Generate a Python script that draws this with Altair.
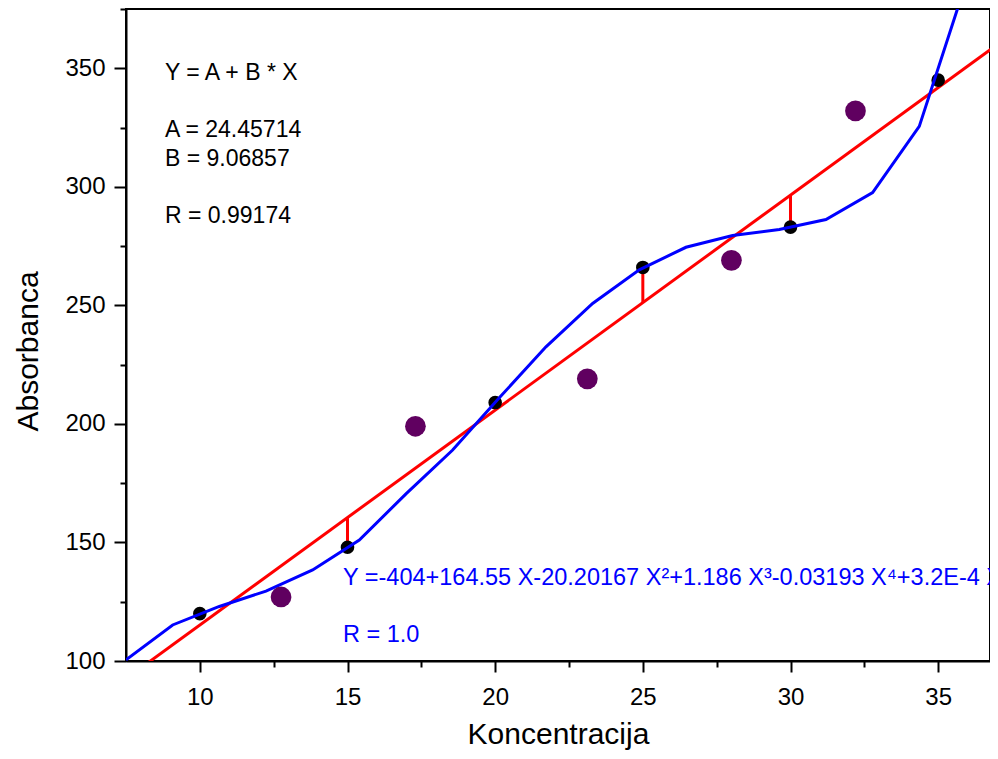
import altair as alt
import pandas as pd

# ---- data ----
meas_x = [10, 15, 20, 25, 30, 35]
meas_y = [120, 148, 209, 266, 283, 345]

extra_x = [12.75, 17.3, 23.12, 28.0, 32.2]
extra_y = [127, 199, 219, 269, 332]

poly_x = [7.5, 9.08, 10.66, 12.24, 13.82, 15.4, 16.98, 18.56, 20.14, 21.72,
          23.3, 24.88, 26.46, 28.04, 29.62, 31.2, 32.78, 34.36, 35.94]
poly_y = [100.5, 115.2, 123.0, 129.5, 138.4, 151.0, 170.5, 189.0, 211.0, 232.5,
          250.8, 265.0, 274.5, 279.5, 282.0, 286.2, 297.6, 325.5, 386.0]

fit_x = [7.5, 37.5]
fit_y = [92.5, 364.5]

res_x = [15, 25, 30]
res_y1 = [148, 266, 283]
res_y2 = [160.5, 251.2, 296.5]

x_major = [10, 15, 20, 25, 30, 35]
x_minor = [12.5, 17.5, 22.5, 27.5, 32.5]
y_major = [100, 150, 200, 250, 300, 350]
y_minor = [125, 175, 225, 275, 325, 375]

lin_lines = ["Y = A + B * X", "A = 24.45714", "B = 9.06857", "R = 0.99174"]
lin_base = [71, 128.3, 156.7, 214.3]
poly_lines = ["Y =-404+164.55 X-20.20167 X\u00b2+1.186 X\u00b3-0.03193 X\u2074+3.2E-4 X\u2075", "R = 1.0"]
poly_base = [576, 633]

FONT = "Liberation Sans"
W, H = 864, 652          # the plot runs on past the right edge of the page, as in the reference
X_MAX = 7.5 + 30 * W / 886

meas = pd.DataFrame({"x": meas_x, "y": meas_y})
extra = pd.DataFrame({"x": extra_x, "y": extra_y})
poly = pd.DataFrame({"x": poly_x, "y": poly_y, "o": list(range(len(poly_x)))})
fit = pd.DataFrame({"x": fit_x, "y": fit_y})
res = pd.DataFrame({"x": res_x, "y": res_y1, "y2": res_y2})

xs = alt.Scale(domain=[7.5, X_MAX], nice=False, zero=False)
ys = alt.Scale(domain=[100, 375], nice=False, zero=False)

common = dict(domainColor="black", domainWidth=2, tickColor="black", tickWidth=2,
              labelColor="black", labelFont=FONT, labelFontSize=24, labelFontWeight="normal",
              titleFont=FONT, titleFontSize=30, titleFontWeight="normal",
              titleColor="black", grid=False)

xax = alt.Axis(values=x_major, title="Koncentracija", orient="bottom", tickSize=11,
               labelPadding=13, titleY=58, labelFlush=False, **common)
yax = alt.Axis(values=y_major, title="Absorbanca", orient="left", tickSize=12,
               labelPadding=9, titleX=-83, titleY=342, labelFlush=False, **common)

XA = alt.X("x:Q", scale=xs, axis=xax)
YA = alt.Y("y:Q", scale=ys, axis=yax)
X = alt.X("x:Q", scale=xs, axis=None)
Y = alt.Y("y:Q", scale=ys, axis=None)

fit_line = alt.Chart(fit).mark_line(color="#ff0000", strokeWidth=3, clip=True).encode(XA, YA)
res_rule = alt.Chart(res).mark_rule(color="#ff0000", strokeWidth=3).encode(X, Y, y2="y2:Q")
pts = alt.Chart(meas).mark_circle(color="black", size=185, opacity=1).encode(X, Y)
poly_line = alt.Chart(poly).mark_line(color="#0000ff", strokeWidth=3, clip=True).encode(
    X, Y, order="o:Q")
purple = alt.Chart(extra).mark_circle(color="#600060", size=430, opacity=1).encode(X, Y)

minor = alt.Chart(meas).mark_point(opacity=0).encode(
    alt.X("x:Q", scale=xs, axis=alt.Axis(values=x_minor, labels=False, title=None, orient="bottom",
                                          tickSize=6, tickWidth=2, tickColor="black",
                                          domain=False, grid=False)),
    alt.Y("y:Q", scale=ys, axis=alt.Axis(values=y_minor, labels=False, title=None, orient="left",
                                          tickSize=6, tickWidth=2, tickColor="black",
                                          domain=False, grid=False)),
)

texts = []
for t, b in zip(lin_lines, lin_base):
    texts.append(alt.Chart(pd.DataFrame({"t": [t]})).mark_text(
        align="left", baseline="alphabetic", font=FONT, fontSize=23, color="black").encode(
        x=alt.value(39), y=alt.value(b), text="t:N"))
for t, b in zip(poly_lines, poly_base):
    texts.append(alt.Chart(pd.DataFrame({"t": [t]})).mark_text(
        align="left", baseline="alphabetic", font=FONT, fontSize=23.5, color="#0000ff").encode(
        x=alt.value(217), y=alt.value(b), text="t:N"))

chart = alt.layer(fit_line, res_rule, pts, poly_line, purple, minor, *texts).resolve_axis(
    x="independent", y="independent"
).properties(
    width=W, height=H,
    autosize=alt.AutoSizeParams(type="none"),
    padding={"left": 118, "top": 1, "right": 0, "bottom": 90},
).configure_view(stroke="black", strokeWidth=2)

chart.save("out.html", embed_options={"renderer": "svg", "actions": False})
